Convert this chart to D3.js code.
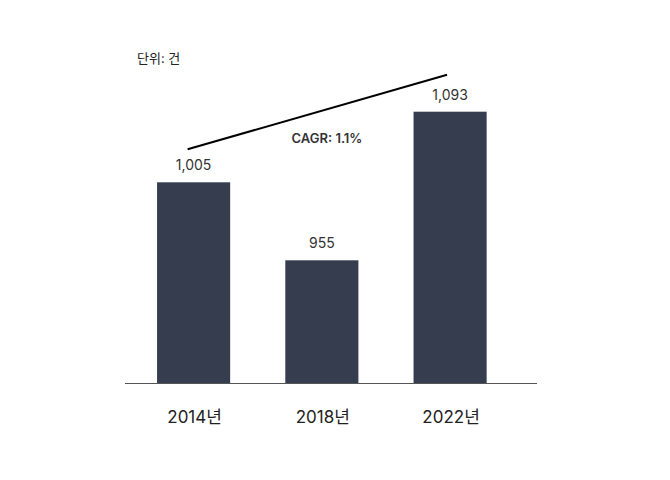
<!DOCTYPE html>
<html><head><meta charset="utf-8">
<script src="https://cdn.jsdelivr.net/npm/d3@7"></script>
<style>
html,body{margin:0;padding:0;background:#fff;}
svg{display:block;font-family:"Inter","Noto Sans CJK KR",sans-serif;}
</style></head>
<body><svg id="c" width="670" height="480"></svg>
<script>
const categories = ["2014년", "2018년", "2022년"];
const values = [1005, 955, 1093];
const valueLabels = ["1,005", "955", "1,093"];
const unitLabel = "단위: 건";
const cagrLabel = "CAGR: 1.1%";

const svg = d3.select("#c");
const baseY = 383;

const x = d3.scaleBand().domain(categories).range([125, 518.7]).paddingInner(0.43).paddingOuter(0.25);
// the reference bars are not drawn to a single linear scale; piecewise scale reproduces them
const y = d3.scaleLinear().domain([877, 955, 1005, 1093]).range([baseY, 260.3, 182.3, 111.7]);

svg.selectAll("rect.bar").data(values).join("rect")
  .attr("class", "bar")
  .attr("x", (d, i) => x(categories[i]))
  .attr("width", x.bandwidth())
  .attr("y", d => y(d))
  .attr("height", d => baseY - y(d))
  .attr("fill", "#353d4f");

svg.append("line").attr("x1", 125).attr("x2", 537).attr("y1", baseY + 0.5).attr("y2", baseY + 0.5)
  .attr("stroke", "#555").attr("stroke-width", 1);

svg.selectAll("text.val").data(values).join("text")
  .attr("class", "val")
  .attr("x", (d, i) => x(categories[i]) + x.bandwidth() / 2)
  .attr("y", d => y(d) - 12)
  .attr("text-anchor", "middle")
  .attr("font-size", 14)
  .attr("fill", "#333")
  .text((d, i) => valueLabels[i]);

svg.selectAll("text.cat").data(categories).join("text")
  .attr("class", "cat")
  .attr("x", d => x(d) + x.bandwidth() / 2 + 1)
  .attr("y", 423)
  .attr("text-anchor", "middle")
  .attr("font-size", 17)
  .attr("fill", "#222")
  .text(d => d);

svg.append("text").attr("x", 137).attr("y", 63).attr("font-size", 13).attr("fill", "#222").text(unitLabel);

const x1 = x(categories[0]) + x.bandwidth() / 2 - 6;
const x2 = x(categories[2]) + x.bandwidth() / 2 - 3;
svg.append("line")
  .attr("x1", x1).attr("y1", y(values[0]) - 33)
  .attr("x2", x2).attr("y2", y(values[2]) - 37)
  .attr("stroke", "#000").attr("stroke-width", 2);

svg.append("text").attr("x", 327).attr("y", 143).attr("text-anchor", "middle")
  .attr("font-size", 13).attr("font-weight", 600).attr("fill", "#333").text(cagrLabel);
</script></body></html>
